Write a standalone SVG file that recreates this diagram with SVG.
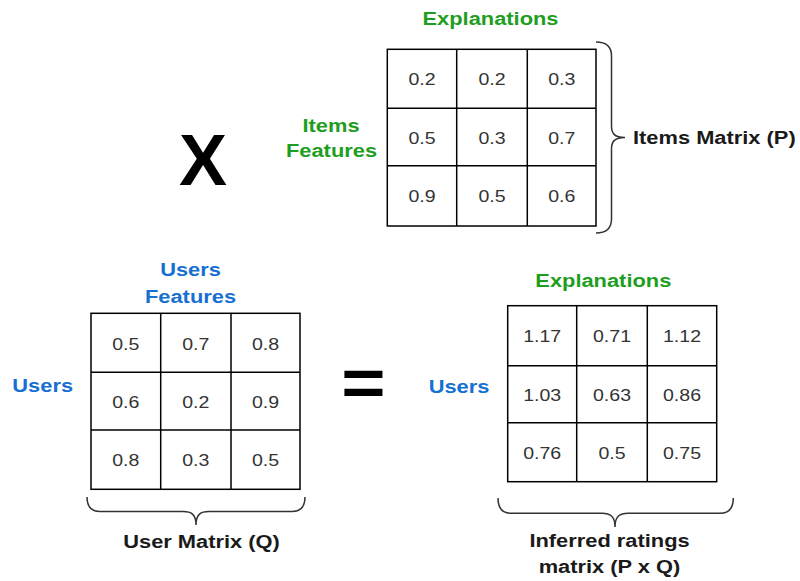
<svg xmlns="http://www.w3.org/2000/svg" width="800" height="581" viewBox="0 0 800 581">
<style>
.lbl{font-family:"Liberation Sans",Arial,sans-serif;font-weight:bold;font-size:19px;text-anchor:middle}
.g{fill:#1e9e1e}
.b{fill:#1670d2}
.k{fill:#1a1a1a}
.num{font-family:"Liberation Sans",Arial,sans-serif;font-size:17px;fill:#333;text-anchor:middle}
.grid{fill:#fff;stroke:#000;stroke-width:1.5}
.brace{fill:none;stroke:#333;stroke-width:1.5}
.op{font-family:"Liberation Sans",Arial,sans-serif;font-weight:bold;fill:#000;text-anchor:middle}
</style>
<rect width="800" height="581" fill="#fff"/>

<g id="matrixP">
<rect class="grid" x="387.3" y="49.3" width="208.7" height="176.7"/>
<path class="grid" d="M456.7,49.3V226M527.3,49.3V226M387.3,108.3H596M387.3,165.7H596"/>
<text class="num" transform="translate(422,85.3) scale(1.15,1)">0.2</text>
<text class="num" transform="translate(492,85.3) scale(1.15,1)">0.2</text>
<text class="num" transform="translate(561.7,85.3) scale(1.15,1)">0.3</text>
<text class="num" transform="translate(422,143.5) scale(1.15,1)">0.5</text>
<text class="num" transform="translate(492,143.5) scale(1.15,1)">0.3</text>
<text class="num" transform="translate(561.7,143.5) scale(1.15,1)">0.7</text>
<text class="num" transform="translate(422,202.3) scale(1.15,1)">0.9</text>
<text class="num" transform="translate(492,202.3) scale(1.15,1)">0.5</text>
<text class="num" transform="translate(561.7,202.3) scale(1.15,1)">0.6</text>
</g>

<g id="matrixQ">
<rect class="grid" x="91" y="313.3" width="209" height="176"/>
<path class="grid" d="M160.7,313.3V489.3M231,313.3V489.3M91,372.3H300M91,430H300"/>
<text class="num" transform="translate(125.8,349.5) scale(1.15,1)">0.5</text>
<text class="num" transform="translate(195.8,349.5) scale(1.15,1)">0.7</text>
<text class="num" transform="translate(265.5,349.5) scale(1.15,1)">0.8</text>
<text class="num" transform="translate(125.8,407.5) scale(1.15,1)">0.6</text>
<text class="num" transform="translate(195.8,407.5) scale(1.15,1)">0.2</text>
<text class="num" transform="translate(265.5,407.5) scale(1.15,1)">0.9</text>
<text class="num" transform="translate(125.8,466.2) scale(1.15,1)">0.8</text>
<text class="num" transform="translate(195.8,466.2) scale(1.15,1)">0.3</text>
<text class="num" transform="translate(265.5,466.2) scale(1.15,1)">0.5</text>
</g>

<g id="matrixR">
<rect class="grid" x="507.7" y="305.7" width="209" height="176"/>
<path class="grid" d="M576.7,305.7V481.7M647.3,305.7V481.7M507.7,365.7H716.7M507.7,422.7H716.7"/>
<text class="num" transform="translate(542.2,342.2) scale(1.15,1)">1.17</text>
<text class="num" transform="translate(612,342.2) scale(1.15,1)">0.71</text>
<text class="num" transform="translate(682,342.2) scale(1.15,1)">1.12</text>
<text class="num" transform="translate(542.2,400.7) scale(1.15,1)">1.03</text>
<text class="num" transform="translate(612,400.7) scale(1.15,1)">0.63</text>
<text class="num" transform="translate(682,400.7) scale(1.15,1)">0.86</text>
<text class="num" transform="translate(542.2,458.7) scale(1.15,1)">0.76</text>
<text class="num" transform="translate(612,458.7) scale(1.15,1)">0.5</text>
<text class="num" transform="translate(682,458.7) scale(1.15,1)">0.75</text>
</g>

<g id="labels">
<text class="lbl g" transform="translate(490.5,25) scale(1.15,1)">Explanations</text>
<text class="lbl g" transform="translate(331,131.7) scale(1.15,1)">Items</text>
<text class="lbl g" transform="translate(331.5,156.7) scale(1.15,1)">Features</text>
<text class="lbl k" transform="translate(633,144) scale(1.15,1)" style="text-anchor:start">Items Matrix (P)</text>
<text class="lbl b" transform="translate(190.5,276) scale(1.15,1)">Users</text>
<text class="lbl b" transform="translate(190.5,302.7) scale(1.15,1)">Features</text>
<text class="lbl b" transform="translate(42.7,391.7) scale(1.15,1)">Users</text>
<text class="lbl k" transform="translate(201.5,547.7) scale(1.15,1)">User Matrix (Q)</text>
<text class="lbl g" transform="translate(603.3,287.3) scale(1.15,1)">Explanations</text>
<text class="lbl b" transform="translate(459,392.7) scale(1.15,1)">Users</text>
<text class="lbl k" transform="translate(609.5,547.3) scale(1.15,1)">Inferred ratings</text>
<text class="lbl k" transform="translate(609.5,573) scale(1.15,1)">matrix (P x Q)</text>
</g>

<g id="operators">
<text class="op" x="203" y="185" font-size="72">X</text>
<text class="op" transform="translate(363.3,406) scale(1.15,1)" font-size="66">=</text>
</g>

<g id="braces">
<path class="brace" d="M596,42C606,42 611.5,46 611.5,56L611.5,126C611.5,133 614,137.5 625,137.5C614,137.5 611.5,142 611.5,149L611.5,219C611.5,229 606,233 596,233"/>
<path class="brace" d="M87,497C87,507 91,511.5 100,511.5L183,511.5C191,511.5 196,514 196,525C196,514 201,511.5 209,511.5L292,511.5C301,511.5 305,507 305,497"/>
<path class="brace" d="M498,498C498,508 502,513.3 511,513.3L602,513.3C610,513.3 615,516 615,527C615,516 620,513.3 628,513.3L720,513.3C729,513.3 733.3,508 733.3,498"/>
</g>
</svg>
